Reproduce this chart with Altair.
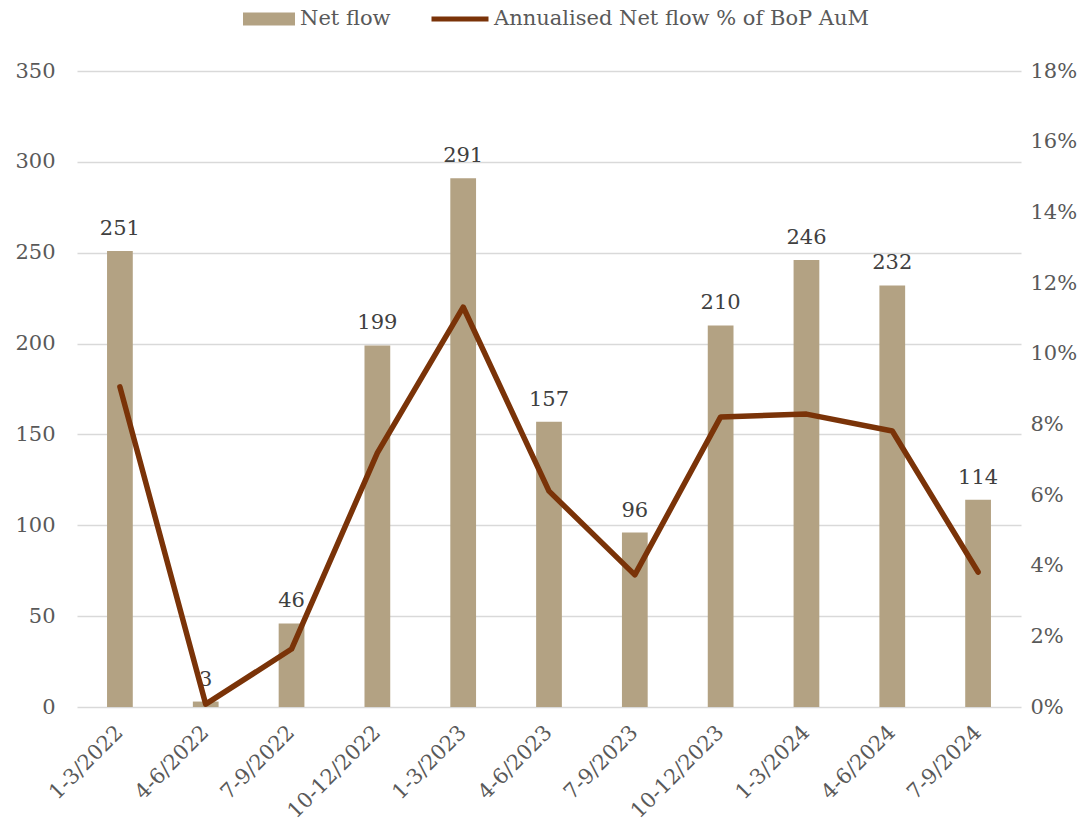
import altair as alt
import pandas as pd

# Quarterly net flows (bars, left axis) and annualised net flow as % of
# beginning-of-period AuM (line, right axis)
quarters = ["1-3/2022", "4-6/2022", "7-9/2022", "10-12/2022", "1-3/2023",
            "4-6/2023", "7-9/2023", "10-12/2023", "1-3/2024", "4-6/2024",
            "7-9/2024"]
net_flow = [251, 3, 46, 199, 291, 157, 96, 210, 246, 232, 114]
flow_pct = [0.0906, 0.0008, 0.0164, 0.0719, 0.1132, 0.0611, 0.0374,
            0.0821, 0.0829, 0.0781, 0.0382]
left_ticks = [0, 50, 100, 150, 200, 250, 300, 350]
right_ticks = [0, 0.02, 0.04, 0.06, 0.08, 0.10, 0.12, 0.14, 0.16, 0.18]

BAR_NAME = "Net flow"
LINE_NAME = "Annualised Net flow % of BoP AuM"
BAR_COLOR = "#B3A283"
LINE_COLOR = "#7A3308"
FONT = "DejaVu Serif"
AXIS_TEXT = "#595959"
FS = 21

df = pd.DataFrame({"quarter": quarters, "flow": net_flow, "pct": flow_pct,
                   "bar_series": BAR_NAME, "line_series": LINE_NAME})

x = alt.X("quarter:N", sort=quarters, title=None,
          scale=alt.Scale(paddingInner=0.7, paddingOuter=0.35),
          axis=alt.Axis(labelAngle=-45, labelFont=FONT, labelFontSize=FS,
                        labelColor=AXIS_TEXT, domain=False, ticks=False,
                        labelPadding=22, labelAlign="right",
                        labelBaseline="middle"))

y_left = alt.Y("flow:Q", title=None,
               scale=alt.Scale(domain=[0, 350], nice=False),
               axis=alt.Axis(values=left_ticks, grid=True, gridColor="#D9D9D9",
                             gridWidth=1.5, domain=False, ticks=False,
                             labelFont=FONT, labelFontSize=FS,
                             labelColor=AXIS_TEXT, labelPadding=22))

bars = alt.Chart(df).mark_bar().encode(
    x=x,
    y=y_left,
    color=alt.Color("bar_series:N",
                    scale=alt.Scale(domain=[BAR_NAME], range=[BAR_COLOR]),
                    legend=alt.Legend(orient="none", legendX=166, legendY=-78,
                                      title=None,
                                      symbolType="M-1,-0.25H1V0.25H-1Z",
                                      symbolSize=2704, symbolStrokeWidth=0,
                                      labelFont=FONT, labelFontSize=FS,
                                      labelColor=AXIS_TEXT, labelOffset=5,
                                      labelLimit=600)),
)

labels = alt.Chart(df).mark_text(
    font=FONT, fontSize=FS, color="#404040", baseline="alphabetic", dy=-16
).encode(x=x, y=alt.Y("flow:Q", scale=alt.Scale(domain=[0, 350], nice=False),
                      axis=None),
         text=alt.Text("flow:Q"))

line = alt.Chart(df).mark_line(strokeWidth=5.5, strokeJoin="round",
                               strokeCap="round").encode(
    x=x,
    y=alt.Y("pct:Q", title=None,
            scale=alt.Scale(domain=[0, 0.18], nice=False),
            axis=alt.Axis(orient="right", values=right_ticks, format=".0%",
                          grid=False, domain=False, ticks=False,
                          labelFont=FONT, labelFontSize=FS,
                          labelColor=AXIS_TEXT, labelPadding=9)),
    color=alt.Color("line_series:N",
                    scale=alt.Scale(domain=[LINE_NAME], range=[LINE_COLOR]),
                    legend=alt.Legend(orient="none", legendX=352, legendY=-83,
                                      title=None, symbolType="stroke",
                                      symbolSize=3249, symbolStrokeWidth=5,
                                      labelFont=FONT, labelFontSize=FS,
                                      labelColor=AXIS_TEXT, labelOffset=3,
                                      labelLimit=600)),
)

chart = alt.layer(bars, labels, line).resolve_scale(
    y="independent", color="independent"
).properties(
    width=944, height=636,
    autosize=alt.AutoSizeParams(type="none"),
    padding={"left": 77, "top": 71, "right": 68, "bottom": 118},
).configure_view(stroke=None)

chart.save("out.html", embed_options={"renderer": "svg", "actions": False})
